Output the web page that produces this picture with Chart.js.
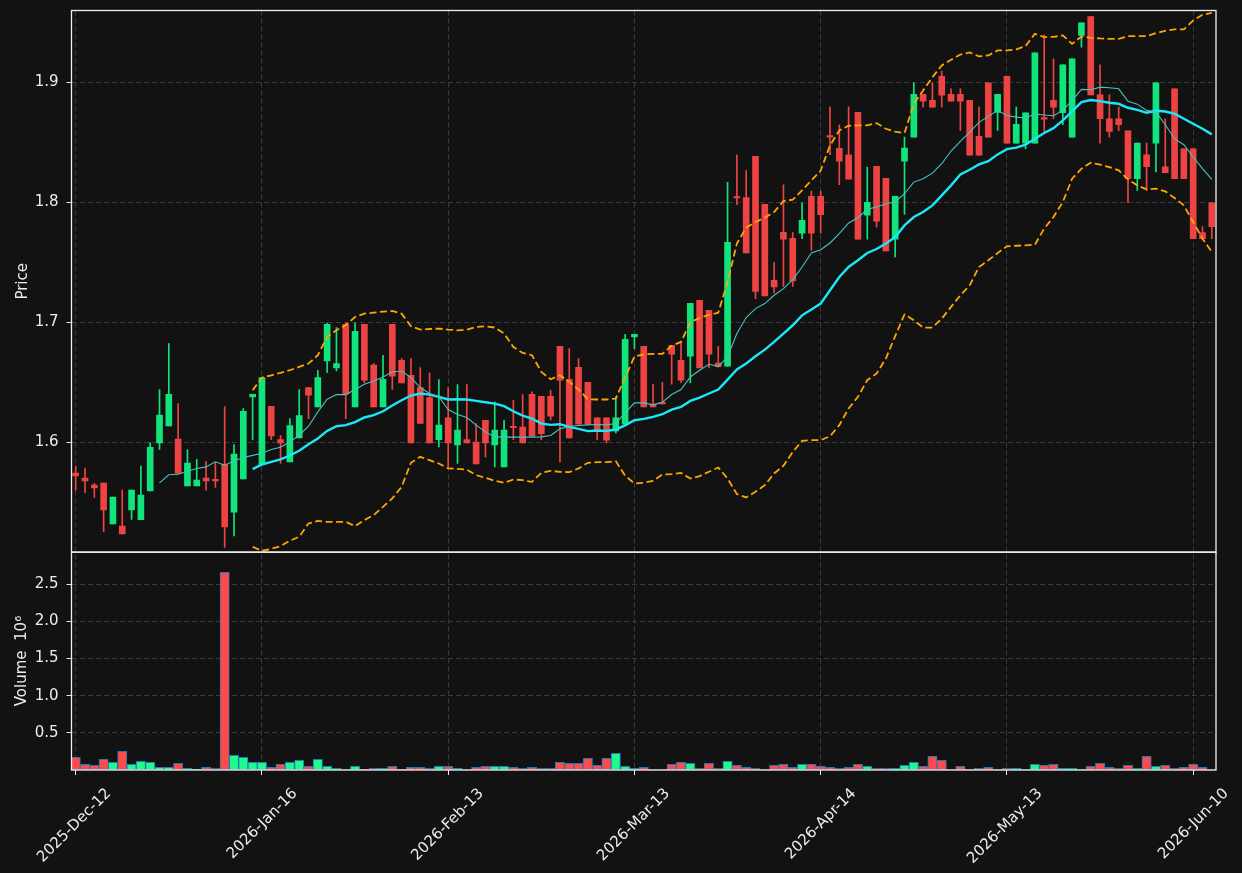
<!DOCTYPE html>
<html>
<head>
<meta charset="utf-8">
<script src="https://cdn.jsdelivr.net/npm/chart.js@4.4.1/dist/chart.umd.min.js"></script>
<style>
  html, body { margin: 0; padding: 0; background: #121212; }
  canvas { display: block; }
</style>
</head>
<body>
<canvas id="priceChart" width="1242" height="873"></canvas>
<script>
// Daily OHLC, one entry per trading bar (bar 0 = 2025-Dec-12).
const opens = [
  1.5742, 1.5700, 1.5642, 1.5658, 1.5319, 1.5300, 1.5436, 1.5353, 1.5594, 1.5994,
  1.6136, 1.6025, 1.5636, 1.5636, 1.5700, 1.5683, 1.5817, 1.5417, 1.5694, 1.6378,
  1.5814, 1.6300, 1.6022, 1.5836, 1.6036, 1.6456, 1.6294, 1.6678, 1.6619, 1.6983,
  1.6294, 1.6983, 1.6642, 1.6294, 1.6983, 1.6683, 1.6558, 1.6456, 1.6372, 1.6022,
  1.6203, 1.5978, 1.6022, 1.6000, 1.6183, 1.5978, 1.5794, 1.6125, 1.6125, 1.6400,
  1.6383, 1.6383, 1.6800, 1.6525, 1.6625, 1.6500, 1.6203, 1.6203, 1.6094, 1.6150,
  1.6878, 1.6800, 1.6317, 1.6328, 1.6808, 1.6683, 1.6717, 1.7183, 1.7100, 1.6660,
  1.6633, 1.8042, 1.8039, 1.8383, 1.7983, 1.7350, 1.7750, 1.7700, 1.7744, 1.8050,
  1.8050, 1.8550, 1.8450, 1.8397, 1.8750, 1.7894, 1.8300, 1.8200, 1.7694, 1.8344,
  1.8544, 1.8900, 1.8850, 1.9050, 1.8900, 1.8900, 1.8850, 1.8550, 1.8997, 1.8750,
  1.9050, 1.8494, 1.8494, 1.8494, 1.8700, 1.8850, 1.8747, 1.8544, 1.9392, 1.9550,
  1.8897, 1.8697, 1.8697, 1.8597, 1.8197, 1.8397, 1.8494, 1.8297, 1.8947, 1.8447,
  1.8447, 1.7747, 1.7997
];
const highs = [
  1.5800, 1.5783, 1.5656, 1.5658, 1.5542, 1.5600, 1.5600, 1.5800, 1.5997, 1.6439,
  1.6822, 1.6322, 1.5939, 1.5858, 1.5839, 1.5833, 1.6297, 1.5981, 1.6281, 1.6400,
  1.6539, 1.6300, 1.6058, 1.6197, 1.6439, 1.6456, 1.6600, 1.6994, 1.6956, 1.6994,
  1.6994, 1.6983, 1.6656, 1.6725, 1.6983, 1.6697, 1.6697, 1.6622, 1.6578, 1.6522,
  1.6456, 1.6481, 1.6481, 1.6156, 1.6183, 1.6336, 1.6183, 1.6350, 1.6397, 1.6419,
  1.6383, 1.6433, 1.6800, 1.6781, 1.6697, 1.6500, 1.6203, 1.6203, 1.6378, 1.6900,
  1.6900, 1.6800, 1.6483, 1.6500, 1.6808, 1.6831, 1.7158, 1.7183, 1.7100, 1.6800,
  1.8167, 1.8397, 1.8264, 1.8383, 1.7983, 1.7497, 1.8147, 1.7747, 1.7994, 1.8094,
  1.8094, 1.8797, 1.8647, 1.8797, 1.8750, 1.8294, 1.8300, 1.8200, 1.8050, 1.8544,
  1.8997, 1.8900, 1.8997, 1.9094, 1.8947, 1.8947, 1.8850, 1.8797, 1.8997, 1.8900,
  1.9050, 1.8794, 1.8747, 1.9247, 1.9397, 1.9197, 1.9147, 1.9197, 1.9497, 1.9550,
  1.9147, 1.8897, 1.8794, 1.8597, 1.8494, 1.8494, 1.8997, 1.8697, 1.8947, 1.8447,
  1.8447, 1.7797, 1.7997
];
const lows = [
  1.5600, 1.5580, 1.5539, 1.5253, 1.5319, 1.5236, 1.5356, 1.5353, 1.5594, 1.5939,
  1.6136, 1.5739, 1.5636, 1.5636, 1.5600, 1.5622, 1.5122, 1.5219, 1.5694, 1.6022,
  1.5814, 1.6022, 1.5822, 1.5836, 1.6036, 1.6197, 1.6294, 1.6581, 1.6594, 1.6197,
  1.6294, 1.6494, 1.6294, 1.6294, 1.6439, 1.6494, 1.5994, 1.6156, 1.5994, 1.5961,
  1.5794, 1.5822, 1.5994, 1.5819, 1.5878, 1.5794, 1.5794, 1.6022, 1.5994, 1.6050,
  1.6022, 1.6183, 1.5836, 1.6036, 1.6150, 1.6150, 1.6022, 1.5994, 1.6078, 1.6150,
  1.6778, 1.6294, 1.6294, 1.6317, 1.6483, 1.6497, 1.6494, 1.6619, 1.6619, 1.6625,
  1.6633, 1.7981, 1.7578, 1.7197, 1.7219, 1.7244, 1.7300, 1.7300, 1.7697, 1.7600,
  1.7744, 1.8397, 1.8147, 1.8194, 1.7694, 1.7694, 1.7794, 1.7594, 1.7544, 1.7900,
  1.8544, 1.8794, 1.8794, 1.8794, 1.8844, 1.8600, 1.8394, 1.8394, 1.8544, 1.8600,
  1.8494, 1.8494, 1.8447, 1.8494, 1.8592, 1.8697, 1.8647, 1.8544, 1.9294, 1.8897,
  1.8494, 1.8544, 1.8597, 1.7997, 1.8100, 1.8100, 1.8253, 1.8247, 1.8197, 1.8197,
  1.7697, 1.7697, 1.7697
];
const closes = [
  1.5719, 1.5678, 1.5619, 1.5436, 1.5542, 1.5236, 1.5600, 1.5558, 1.5958, 1.6225,
  1.6400, 1.5739, 1.5825, 1.5683, 1.5678, 1.5678, 1.5294, 1.5900, 1.6258, 1.6400,
  1.6539, 1.6053, 1.5994, 1.6139, 1.6222, 1.6392, 1.6539, 1.6983, 1.6656, 1.6400,
  1.6925, 1.6517, 1.6294, 1.6525, 1.6550, 1.6494, 1.5994, 1.6156, 1.5994, 1.6142,
  1.5994, 1.6100, 1.5994, 1.5819, 1.5994, 1.6100, 1.6100, 1.6120, 1.5994, 1.6050,
  1.6072, 1.6217, 1.6517, 1.6036, 1.6150, 1.6150, 1.6100, 1.6017, 1.6203, 1.6858,
  1.6900, 1.6294, 1.6294, 1.6320, 1.6733, 1.6517, 1.7158, 1.6619, 1.6733, 1.6630,
  1.7667, 1.8036, 1.7578, 1.7258, 1.7219, 1.7294, 1.7694, 1.7344, 1.7850, 1.7744,
  1.7897, 1.8544, 1.8344, 1.8194, 1.7694, 1.8000, 1.7844, 1.7594, 1.8050, 1.8453,
  1.8900, 1.8844, 1.8794, 1.8894, 1.8844, 1.8844, 1.8394, 1.8394, 1.8544, 1.8900,
  1.8494, 1.8650, 1.8747, 1.9247, 1.8694, 1.8794, 1.9147, 1.9197, 1.9497, 1.8897,
  1.8697, 1.8592, 1.8647, 1.8197, 1.8494, 1.8297, 1.8997, 1.8247, 1.8197, 1.8197,
  1.7697, 1.7697, 1.7797
];
// Volume in millions
const volumes = [
  0.171, 0.077, 0.063, 0.144, 0.104, 0.252, 0.077, 0.117, 0.104, 0.036,
  0.036, 0.090, 0.023, 0.014, 0.036, 0.027, 2.660, 0.198, 0.171, 0.104,
  0.104, 0.036, 0.077, 0.104, 0.131, 0.050, 0.144, 0.050, 0.023, 0.005,
  0.050, 0.010, 0.023, 0.023, 0.050, 0.010, 0.036, 0.036, 0.027, 0.050,
  0.050, 0.027, 0.006, 0.036, 0.050, 0.050, 0.050, 0.036, 0.023, 0.036,
  0.023, 0.023, 0.104, 0.090, 0.090, 0.158, 0.063, 0.158, 0.225, 0.050,
  0.023, 0.036, 0.005, 0.005, 0.077, 0.104, 0.090, 0.023, 0.090, 0.023,
  0.117, 0.063, 0.036, 0.023, 0.005, 0.063, 0.077, 0.036, 0.077, 0.077,
  0.050, 0.036, 0.023, 0.036, 0.077, 0.050, 0.023, 0.023, 0.023, 0.063,
  0.104, 0.050, 0.185, 0.131, 0.005, 0.050, 0.005, 0.023, 0.036, 0.005,
  0.023, 0.023, 0.005, 0.077, 0.063, 0.077, 0.023, 0.023, 0.005, 0.050,
  0.090, 0.036, 0.023, 0.063, 0.023, 0.185, 0.050, 0.063, 0.023, 0.036,
  0.077, 0.036, 0.005
];

// Overlays (null where the line has not started)
const ma10 = [
  null, null, null, null, null, null, null, null, null, 1.5660,
  1.5728, 1.5733, 1.5758, 1.5780, 1.5794, 1.5836, 1.5808, 1.5844, 1.5872, 1.5890,
  1.5908, 1.5939, 1.5958, 1.6003, 1.6058, 1.6133, 1.6253, 1.6358, 1.6397, 1.6397,
  1.6439, 1.6483, 1.6511, 1.6544, 1.6586, 1.6594, 1.6539, 1.6456, 1.6406, 1.6380,
  1.6272, 1.6231, 1.6206, 1.6142, 1.6086, 1.6044, 1.6042, 1.6042, 1.6042, 1.6042,
  1.6044, 1.6056, 1.6111, 1.6133, 1.6139, 1.6144, 1.6147, 1.6144, 1.6156, 1.6245,
  1.6328, 1.6328, 1.6311, 1.6333, 1.6397, 1.6439, 1.6544, 1.6600, 1.6650, 1.6633,
  1.6711, 1.6906, 1.7039, 1.7114, 1.7156, 1.7225, 1.7281, 1.7356, 1.7461, 1.7578,
  1.7605, 1.7661, 1.7739, 1.7828, 1.7872, 1.7942, 1.7961, 1.7989, 1.8003, 1.8072,
  1.8169, 1.8197, 1.8244, 1.8322, 1.8428, 1.8508, 1.8586, 1.8667, 1.8717, 1.8767,
  1.8725, 1.8711, 1.8703, 1.8736, 1.8728, 1.8722, 1.8767, 1.8850, 1.8942, 1.8939,
  1.8961, 1.8956, 1.8947, 1.8842, 1.8819, 1.8767, 1.8753, 1.8647, 1.8531, 1.8481,
  1.8378, 1.8281, 1.8192
];
const ma20 = [
  null, null, null, null, null, null, null, null, null, null,
  null, null, null, null, null, null, null, null, null, 1.5775,
  1.5814, 1.5836, 1.5856, 1.5889, 1.5928, 1.5983, 1.6031, 1.6094, 1.6133, 1.6142,
  1.6167, 1.6206, 1.6225, 1.6258, 1.6306, 1.6350, 1.6389, 1.6406, 1.6397, 1.6378,
  1.6356, 1.6358, 1.6356, 1.6344, 1.6333, 1.6322, 1.6300, 1.6258, 1.6222, 1.6197,
  1.6156, 1.6144, 1.6150, 1.6128, 1.6111, 1.6092, 1.6097, 1.6094, 1.6106, 1.6140,
  1.6183, 1.6194, 1.6211, 1.6233, 1.6272, 1.6294, 1.6344, 1.6372, 1.6406, 1.6439,
  1.6522, 1.6606, 1.6656, 1.6717, 1.6772, 1.6836, 1.6906, 1.6975, 1.7058, 1.7106,
  1.7156, 1.7267, 1.7378, 1.7461, 1.7517, 1.7578, 1.7611, 1.7656, 1.7711, 1.7808,
  1.7878, 1.7919, 1.7975, 1.8058, 1.8142, 1.8233, 1.8272, 1.8317, 1.8344, 1.8400,
  1.8444, 1.8457, 1.8481, 1.8531, 1.8578, 1.8619, 1.8683, 1.8758, 1.8836, 1.8853,
  1.8844, 1.8831, 1.8822, 1.8789, 1.8772, 1.8747, 1.8764, 1.8758, 1.8739, 1.8697,
  1.8656, 1.8614, 1.8567
];
const bandUpper = [
  null, null, null, null, null, null, null, null, null, null,
  null, null, null, null, null, null, null, null, null, 1.6433,
  1.6539, 1.6558, 1.6578, 1.6600, 1.6628, 1.6656, 1.6725, 1.6878, 1.6933, 1.6975,
  1.7044, 1.7072, 1.7081, 1.7089, 1.7094, 1.7072, 1.6967, 1.6939, 1.6944, 1.6947,
  1.6939, 1.6933, 1.6939, 1.6961, 1.6967, 1.6956, 1.6906, 1.6794, 1.6744, 1.6725,
  1.6586, 1.6525, 1.6558, 1.6503, 1.6439, 1.6358, 1.6356, 1.6356, 1.6364, 1.6540,
  1.6714, 1.6733, 1.6736, 1.6736, 1.6804, 1.6836, 1.7000, 1.7035, 1.7062, 1.7080,
  1.7336, 1.7656, 1.7789, 1.7836, 1.7872, 1.7919, 1.8011, 1.8022, 1.8100, 1.8183,
  1.8265, 1.8475, 1.8600, 1.8639, 1.8642, 1.8642, 1.8661, 1.8614, 1.8589, 1.8578,
  1.8822, 1.8933, 1.9044, 1.9142, 1.9189, 1.9233, 1.9250, 1.9217, 1.9225, 1.9267,
  1.9267, 1.9275, 1.9303, 1.9406, 1.9378, 1.9380, 1.9392, 1.9322, 1.9383, 1.9372,
  1.9367, 1.9364, 1.9364, 1.9386, 1.9386, 1.9386, 1.9411, 1.9431, 1.9442, 1.9442,
  1.9517, 1.9564, 1.9581
];
const bandLower = [
  null, null, null, null, null, null, null, null, null, null,
  null, null, null, null, null, null, null, null, null, 1.5128,
  1.5094, 1.5111, 1.5133, 1.5178, 1.5211, 1.5322, 1.5344, 1.5336, 1.5336, 1.5336,
  1.5300, 1.5350, 1.5392, 1.5461, 1.5531, 1.5628, 1.5828, 1.5878, 1.5850, 1.5822,
  1.5781, 1.5778, 1.5772, 1.5725, 1.5703, 1.5678, 1.5661, 1.5689, 1.5683, 1.5669,
  1.5744, 1.5761, 1.5753, 1.5750, 1.5781, 1.5828, 1.5833, 1.5833, 1.5842, 1.5720,
  1.5656, 1.5661, 1.5678, 1.5731, 1.5733, 1.5744, 1.5697, 1.5717, 1.5753, 1.5789,
  1.5697, 1.5567, 1.5539, 1.5586, 1.5642, 1.5739, 1.5803, 1.5919, 1.6011, 1.6017,
  1.6017, 1.6050, 1.6142, 1.6281, 1.6378, 1.6517, 1.6572, 1.6697, 1.6885, 1.7065,
  1.7017, 1.6956, 1.6956, 1.7031, 1.7128, 1.7225, 1.7308, 1.7461, 1.7517, 1.7578,
  1.7633, 1.7638, 1.7642, 1.7647, 1.7781, 1.7878, 1.8003, 1.8197, 1.8281, 1.8331,
  1.8314, 1.8294, 1.8267, 1.8192, 1.8142, 1.8108, 1.8114, 1.8092, 1.8036, 1.7975,
  1.7836, 1.7697, 1.7586
];

// x axis: bar positions that carry a date label
const tickBars = [0, 20, 40, 60, 80, 100, 120];
const tickDates = ['2025-Dec-12', '2026-Jan-16', '2026-Feb-13', '2026-Mar-13',
                   '2026-Apr-14', '2026-May-13', '2026-Jun-10'];
const priceTicks = [1.6, 1.7, 1.8, 1.9];
const volumeTicks = [0.5, 1.0, 1.5, 2.0, 2.5];

// Colours
const bgColor = '#121212';
const upColor = '#10e47b';
const downColor = '#ee4343';
const volUpColor = '#1cfb8c';
const volDownColor = '#fd4a4a';
const textColor = '#ececec';
const gridColor = '#3a3a3a';

const barIndex = opens.map((_, i) => i);
const isUp = opens.map((o, i) => closes[i] >= o);
const candleColors = isUp.map(u => (u ? upColor : downColor));
const volumeColors = isUp.map(u => (u ? volUpColor : volDownColor));

Chart.defaults.font.family = "'DejaVu Sans', sans-serif";
Chart.defaults.font.size = 15;
Chart.defaults.color = textColor;

// Fills the page colour and draws the white box round each panel.
const panelFrames = {
  id: 'panelFrames',
  beforeDraw(chart) {
    const ctx = chart.ctx;
    ctx.save();
    ctx.fillStyle = bgColor;
    ctx.fillRect(0, 0, chart.width, chart.height);
    ctx.restore();
  },
  afterDraw(chart) {
    const { ctx, chartArea } = chart;
    const w = chartArea.right - chartArea.left;
    ctx.save();
    ctx.strokeStyle = '#f0f0f0';
    ctx.lineWidth = 1.3;
    [chart.scales.y, chart.scales.yv].forEach((s) => {
      ctx.strokeRect(chartArea.left, s.top, w, s.bottom - s.top);
    });
    ctx.restore();
  }
};

function sharedGrid() {
  return {
    color: gridColor,
    lineWidth: 1,
    drawTicks: true,
    tickLength: 5,
    tickColor: textColor,
    tickWidth: 1,
    tickBorderDash: [],
    offset: false
  };
}

// fixed width for the y axes, and no extra padding from the tick labels
function fixYAxis(s) {
  s.width = 71.5;
  s.paddingTop = 0;
  s.paddingBottom = 0;
}

const config = {
  type: 'bar',
  data: {
    labels: barIndex,
    datasets: [
      {
        type: 'line',
        label: 'MA10',
        data: ma10,
        borderColor: '#45c4c0',
        borderWidth: 1.1,
        pointRadius: 0,
        order: 0
      },
      {
        type: 'line',
        label: 'MA20',
        data: ma20,
        borderColor: '#1ae8f8',
        borderWidth: 2.4,
        pointRadius: 0,
        order: 0
      },
      {
        type: 'line',
        label: 'Upper band',
        data: bandUpper,
        borderColor: '#ffa500',
        borderWidth: 1.8,
        borderDash: [7, 3.5],
        pointRadius: 0,
        order: 0
      },
      {
        type: 'line',
        label: 'Lower band',
        data: bandLower,
        borderColor: '#ffa500',
        borderWidth: 1.8,
        borderDash: [7, 3.5],
        pointRadius: 0,
        order: 0
      },
      {
        label: 'Body',
        data: opens.map((o, i) => [o, closes[i]]),
        backgroundColor: candleColors,
        barThickness: 6,
        minBarLength: 1.5,
        grouped: false,
        order: 1
      },
      {
        label: 'Wick',
        data: lows.map((l, i) => [l, highs[i]]),
        backgroundColor: candleColors,
        barThickness: 1,
        grouped: false,
        order: 2
      },
      {
        label: 'Volume',
        data: volumes,
        yAxisID: 'yv',
        backgroundColor: volumeColors,
        borderColor: '#2677b5',
        borderWidth: 1,
        borderSkipped: false,
        barPercentage: 1,
        categoryPercentage: 1,
        grouped: false,
        order: 3
      }
    ]
  },
  options: {
    responsive: false,
    animation: false,
    devicePixelRatio: 1,
    layout: { padding: { top: 10.5, right: 26, bottom: 0, left: 0 } },
    plugins: {
      legend: { display: false },
      tooltip: { enabled: false }
    },
    scales: {
      x: {
        type: 'linear',
        min: -0.45,
        max: 122.45,
        offset: false,
        afterBuildTicks: (s) => { s.ticks = tickBars.map(v => ({ value: v })); },
        afterFit: (s) => { s.height = 103; s.paddingLeft = 0; s.paddingRight = 0; },
        grid: sharedGrid(),
        border: { display: false, dash: [5, 3] },
        ticks: {
          autoSkip: false,
          minRotation: 45,
          maxRotation: 45,
          padding: 10,
          labelOffset: 33,
          color: textColor,
          callback: (v) => {
            const k = tickBars.indexOf(v);
            return k >= 0 ? tickDates[k] : '';
          }
        }
      },
      y: {
        type: 'linear',
        position: 'left',
        stack: 'panels',
        stackWeight: 542,
        weight: 2,
        min: 1.5083,
        max: 1.96,
        afterBuildTicks: (s) => { s.ticks = priceTicks.map(v => ({ value: v })); },
        afterFit: fixYAxis,
        grid: sharedGrid(),
        border: { display: false, dash: [5, 3] },
        ticks: { padding: 8, color: textColor, callback: (v) => v.toFixed(1) },
        title: { display: true, text: 'Price', color: textColor, padding: { top: 14.5, bottom: 0 } }
      },
      yv: {
        type: 'linear',
        position: 'left',
        stack: 'panels',
        stackWeight: 218,
        weight: 1,
        min: 0,
        max: 2.93,
        afterBuildTicks: (s) => { s.ticks = volumeTicks.map(v => ({ value: v })); },
        afterFit: fixYAxis,
        grid: sharedGrid(),
        border: { display: false, dash: [5, 3] },
        ticks: { padding: 8, color: textColor, callback: (v) => v.toFixed(1) },
        title: { display: true, text: 'Volume  10\u2076', color: textColor, padding: { top: 13.5, bottom: 0 } }
      }
    }
  },
  plugins: [panelFrames]
};

// Build the chart; it renders straight away.
const chart = new Chart(document.getElementById('priceChart'), config);
</script>
</body>
</html>
